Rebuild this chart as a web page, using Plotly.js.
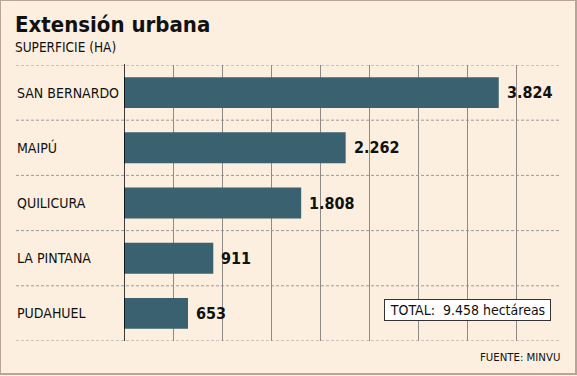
<!DOCTYPE html>
<html>
<head>
<meta charset="utf-8">
<script src="https://cdn.plot.ly/plotly-3.0.1.min.js"></script>
<style>
html,body{margin:0;padding:0;background:#fcefdf;}
#wrap{position:relative;width:577px;height:376px;}
#chart{width:577px;height:376px;}
#frame{position:absolute;left:0;top:0;width:574px;height:372px;border:1px solid #b9a49a;border-right-width:2px;border-bottom-width:2px;pointer-events:none;}
</style>
</head>
<body>
<div id="wrap"><div id="chart"></div><div id="frame"></div></div>
<script>
const categories = ["SAN BERNARDO", "MAIPÚ", "QUILICURA", "LA PINTANA", "PUDAHUEL"];
const values = [3824, 2262, 1808, 911, 653];
const valueLabels = ["3.824", "2.262", "1.808", "911", "653"];
const gridTicks = [500, 1000, 1500, 2000, 2500, 3000, 3500, 4000];
const titleText = "Extensión urbana";
const subtitleText = "SUPERFICIE (HA)";
const totalText = "TOTAL:  9.458 hectáreas";
const sourceText = "FUENTE: MINVU";

const W = 577, H = 376;
const M = {l: 124, r: 17, t: 65, b: 35};
const PW = W - M.l - M.r, PH = H - M.t - M.b;
const px = x => (x - M.l) / PW;
const py = y => (H - M.b - y) / PH;

const FONT = '"DejaVu Sans Condensed", "DejaVu Sans", sans-serif';
const BAR = '#3a6170';

const trace = {
  type: 'bar',
  orientation: 'h',
  y: categories,
  x: values,
  marker: {color: BAR, line: {width: 0}},
  width: 0.56,
  hoverinfo: 'none'
};

const annotations = [];
categories.forEach((c, i) => {
  annotations.push({xref: 'paper', yref: 'y', x: px(15), y: c, xanchor: 'left', yanchor: 'middle',
    text: c, showarrow: false, font: {family: FONT, size: 14, color: '#111'}});
  annotations.push({xref: 'x', yref: 'y', x: values[i], y: c, xanchor: 'left', yanchor: 'middle',
    xshift: 6, text: '<b>' + valueLabels[i] + '</b>', showarrow: false,
    font: {family: FONT, size: 16, color: '#111'}});
});
annotations.push({xref: 'paper', yref: 'paper', x: px(13), y: py(24), xanchor: 'left', yanchor: 'middle',
  text: '<b>' + titleText + '</b>', showarrow: false, font: {family: FONT, size: 22, color: '#111'}});
annotations.push({xref: 'paper', yref: 'paper', x: px(13), y: py(47), xanchor: 'left', yanchor: 'middle',
  text: subtitleText, showarrow: false, font: {family: FONT, size: 13.5, color: '#111'}});
annotations.push({xref: 'paper', yref: 'paper', x: px(384), y: py(310), xanchor: 'left', yanchor: 'middle',
  text: totalText, showarrow: false, bgcolor: '#ffffff', bordercolor: '#333', borderwidth: 1, borderpad: 2,
  width: 161, align: 'center', font: {family: FONT, size: 14, color: '#111'}});
annotations.push({xref: 'paper', yref: 'paper', x: px(562), y: py(357), xanchor: 'right', yanchor: 'middle',
  text: sourceText, showarrow: false, font: {family: FONT, size: 11.3, color: '#111'}});

const shapes = [];
for (let k = 0; k <= categories.length; k++) {
  shapes.push({type: 'line', xref: 'paper', yref: 'y', x0: px(16), x1: 1, y0: k - 0.5, y1: k - 0.5,
    line: {color: '#9a9a9a', width: 1, dash: '3px,2px'}, layer: 'below'});
}
shapes.push({type: 'line', xref: 'x', yref: 'paper', x0: 0, x1: 0, y0: 0, y1: 1.004,
  line: {color: '#000', width: 1.5}, layer: 'above'});

const layout = {
  width: W, height: H,
  margin: M,
  paper_bgcolor: '#fcefdf',
  plot_bgcolor: '#fcefdf',
  showlegend: false,
  separators: ',.',
  xaxis: {range: [0, 4449], tickvals: gridTicks, showticklabels: false, showgrid: true,
    gridcolor: '#8f8a86', gridwidth: 1, zeroline: false, showline: false, ticks: '', fixedrange: true},
  yaxis: {type: 'category', categoryorder: 'array', categoryarray: categories, range: [4.5, -0.5],
    showticklabels: false, showgrid: false, zeroline: false, showline: false, ticks: '', fixedrange: true},
  annotations: annotations,
  shapes: shapes
};

Plotly.newPlot('chart', [trace], layout, {staticPlot: true, displayModeBar: false});
</script>
</body>
</html>
